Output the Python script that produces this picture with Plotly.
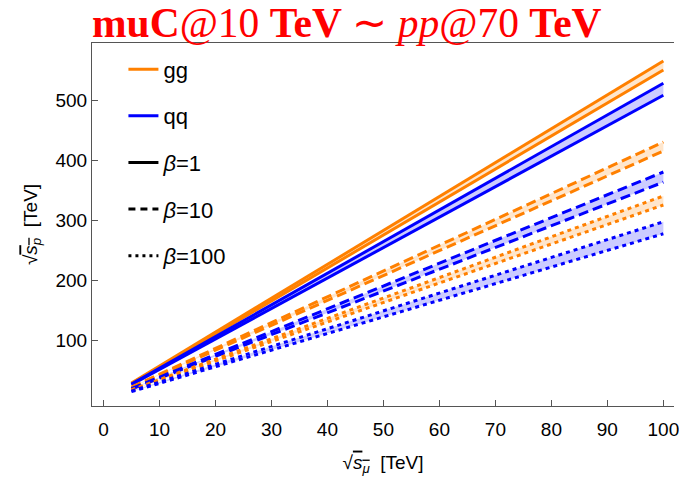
import plotly.graph_objects as go

# sqrt(s_mu) [TeV]
x_vals = [5, 100]

# sqrt(s_p) [TeV] : upper / lower edge of each band
gg_b1_hi = [28.3, 565]
gg_b1_lo = [27.5, 550]
qq_b1_hi = [26.4, 528]
qq_b1_lo = [25.4, 508]
gg_b10_hi = [21.5, 430]
gg_b10_lo = [20.7, 415]
qq_b10_hi = [19.0, 380]
qq_b10_lo = [18.2, 363]
gg_b100_hi = [17.0, 340]
gg_b100_lo = [16.2, 325]
qq_b100_hi = [14.9, 297]
qq_b100_lo = [13.9, 277]

x_ticks = [0, 10, 20, 30, 40, 50, 60, 70, 80, 90, 100]
y_ticks = [100, 200, 300, 400, 500]

ORANGE = "#FF8000"
BLUE = "#0000FF"
FILL = {ORANGE: "rgba(255,128,0,0.2)", BLUE: "rgba(0,0,255,0.2)"}
DASH = {"b1": "solid", "b10": "10px,5px", "b100": "4px,4px"}

bands = [
    (gg_b1_hi, gg_b1_lo, ORANGE, "b1"),
    (qq_b1_hi, qq_b1_lo, BLUE, "b1"),
    (gg_b10_hi, gg_b10_lo, ORANGE, "b10"),
    (qq_b10_hi, qq_b10_lo, BLUE, "b10"),
    (gg_b100_hi, gg_b100_lo, ORANGE, "b100"),
    (qq_b100_hi, qq_b100_lo, BLUE, "b100"),
]

fig = go.Figure()
for hi, lo, col, b in bands:
    fig.add_trace(go.Scatter(x=x_vals, y=hi, mode="lines", showlegend=False,
                             line=dict(color=col, width=3, dash=DASH[b]), hoverinfo="skip"))
    fig.add_trace(go.Scatter(x=x_vals, y=lo, mode="lines", showlegend=False,
                             fill="tonexty", fillcolor=FILL[col],
                             line=dict(color=col, width=3, dash=DASH[b]), hoverinfo="skip"))

legend_items = [
    ("gg", ORANGE, "solid"),
    ("qq", BLUE, "solid"),
    ("<i>β</i>=1", "black", "solid"),
    ("<i>β</i>=10", "black", "7px,5px"),
    ("<i>β</i>=100", "black", "3px,4px"),
]
for i, (name, col, dash) in enumerate(legend_items):
    fig.add_trace(go.Scatter(x=[None], y=[None], mode="lines", name=name,
                             legendgroup=f"g{i}",
                             line=dict(color=col, width=3, dash=dash)))

SANS = "Liberation Sans, Arial, sans-serif"
axis_common = dict(
    showline=True, linecolor="#555555", linewidth=1,
    ticks="inside", ticklen=6, tickcolor="#555555", tickwidth=1,
    showgrid=False, zeroline=False,
    tickfont=dict(family=SANS, size=19, color="black"),
)

fig.update_layout(
    width=679, height=477,
    margin=dict(l=92, r=0, t=43, b=71),
    paper_bgcolor="white", plot_bgcolor="white",
    title=dict(
        text="<b>muC</b>@10 <b>TeV</b> ∼ <i>pp</i>@70 <b>TeV</b>",
        font=dict(family="Liberation Serif, Times New Roman, serif", size=41.5, color="red"),
        x=92 / 679, xanchor="left", xref="container",
        y=1 - 22 / 477, yanchor="middle", yref="container",
    ),
    xaxis=dict(
        range=[-2.05, 101.9], tickvals=x_ticks, ticklabeloverflow="allow",
        ticklabelstandoff=6,
        mirror=True,
        title=dict(text="√<span style='text-decoration:overline'><i>s</i><sub><i>μ</i></sub></span>  [TeV]",
                   font=dict(family=SANS, size=19, color="black"),
                   standoff=16),
        **axis_common,
    ),
    yaxis=dict(
        range=[-10, 595], tickvals=y_ticks,
        title=dict(text="√<span style='text-decoration:overline'><i>s</i><sub><i>p</i></sub></span>  [TeV]",
                   font=dict(family=SANS, size=19, color="black"),
                   standoff=12),
        **axis_common,
    ),
    legend=dict(
        x=0.054, y=0.985, xanchor="left", yanchor="top",
        bgcolor="rgba(0,0,0,0)",
        font=dict(family=SANS, size=22, color="black"),
        tracegroupgap=15, itemwidth=30,
    ),
)

fig.write_html("out.html")
